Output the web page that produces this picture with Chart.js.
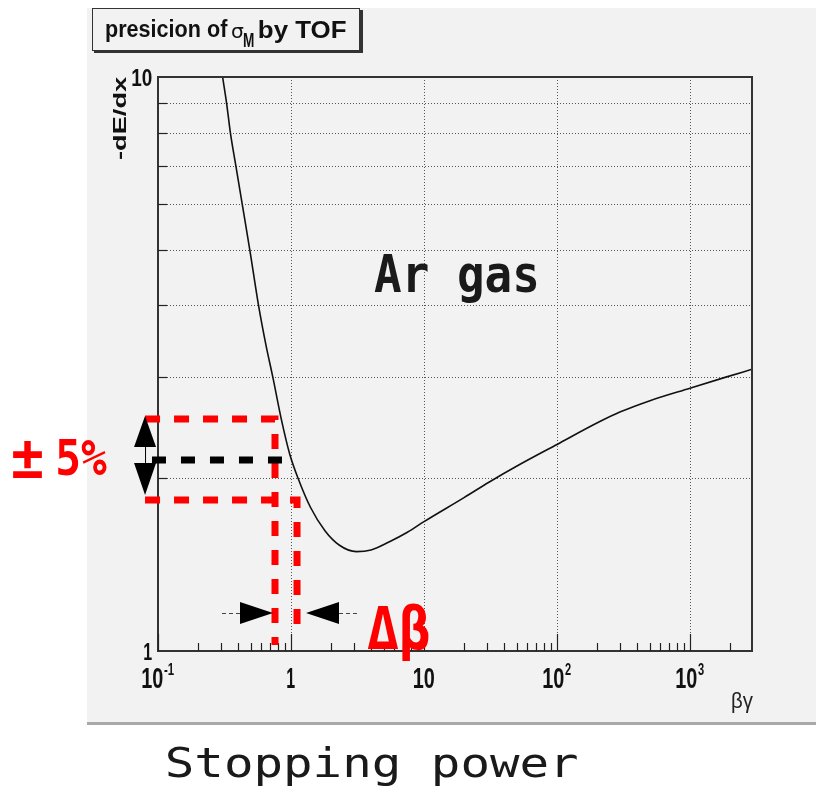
<!DOCTYPE html>
<html><head><meta charset="utf-8">
<script src="https://cdn.jsdelivr.net/npm/chart.js@4/dist/chart.umd.min.js"></script>
<style>html,body{margin:0;padding:0;background:#fff;}canvas{display:block;}</style>
</head><body>
<canvas id="c" width="816" height="793"></canvas>
<script>
// ---- data ----
const betaGamma = [0.306,0.328,0.35,0.385,0.43,0.49,0.57,0.65,0.73,0.85,0.98,1.13,1.4,1.8,2.3,3.1,4.0,5.5,7.5,10,20,31,50,100,210,300,500,1000,1860,2925];
const dEdx      = [10,9,8,7,6,5,4,3.4,3.0,2.52,2.2,2.0,1.78,1.62,1.53,1.49,1.5,1.55,1.61,1.68,1.85,1.97,2.1,2.29,2.51,2.61,2.73,2.87,3.0,3.096];
const xRange = [0.1, 2925];
const yRange = [1, 10];
const xMajorTicks = [0.1, 1, 10, 100, 1000];
const xTickBase = ["10", "1", "10", "10", "10"];
const xTickSup  = ["-1", "", "", "2", "3"];
const yLabelValues = [1, 10];
const yLabelTexts = ["1", "10"];
const yMinorGrid = [2,3,4,5,6,7,8,9];
const xGridValues = [1, 10, 100, 1000];
// annotation anchors (data coordinates)
const annLeftX = 0.0799;
const annBlackLeftX = 0.0901, annBlackRightX = 0.8706, annBlackY = 2.151;
const annUpperY = 2.536, annLowerY = 1.833;
const annBetaLow = 0.758, annBetaHigh = 1.11;
const annUpperBottomY = 1.024, annLowerBottomY = 1.058;
const annArrowY = 1.165;

function fitText(ctx, text, font, box, color) {
  ctx.save();
  ctx.font = font; ctx.fillStyle = color; ctx.textAlign = 'left'; ctx.textBaseline = 'alphabetic';
  const m = ctx.measureText(text);
  const w = m.actualBoundingBoxLeft + m.actualBoundingBoxRight;
  const h = m.actualBoundingBoxAscent + m.actualBoundingBoxDescent;
  const sx = (box[2]-box[0]) / w, sy = (box[3]-box[1]) / h;
  ctx.translate(box[0], box[1]);
  ctx.scale(sx, sy);
  ctx.fillText(text, m.actualBoundingBoxLeft, m.actualBoundingBoxAscent);
  ctx.restore();
}

const decor = {
  id: 'decor',
  beforeDraw(chart) {
    const ctx = chart.ctx;
    ctx.save();
    ctx.fillStyle = '#ffffff'; ctx.fillRect(0,0,816,793);
    ctx.fillStyle = '#f2f2f2'; ctx.fillRect(87,8,729,714);
    ctx.fillStyle = '#a9a9a9'; ctx.fillRect(87,722,729,3);
    ctx.restore();
  },
  beforeDatasetsDraw(chart) {
    const ctx = chart.ctx, a = chart.chartArea, xs = chart.scales.x, ys = chart.scales.y;
    ctx.save();
    ctx.strokeStyle = '#555'; ctx.lineWidth = 1; ctx.setLineDash([1,2]);
    xGridValues.forEach(v => {
      const px = Math.round(xs.getPixelForValue(v)) + 0.5;
      ctx.beginPath(); ctx.moveTo(px, a.top); ctx.lineTo(px, a.bottom); ctx.stroke();
    });
    yMinorGrid.forEach(v => {
      const py = Math.round(ys.getPixelForValue(v)) + 0.5;
      ctx.beginPath(); ctx.moveTo(a.left, py); ctx.lineTo(a.right, py); ctx.stroke();
    });
    ctx.restore();
  },
  afterDatasetsDraw(chart) {
    const ctx = chart.ctx, a = chart.chartArea, xs = chart.scales.x, ys = chart.scales.y;
    const X = v => xs.getPixelForValue(v), Y = v => ys.getPixelForValue(v);
    ctx.save();
    // frame
    ctx.strokeStyle = '#333'; ctx.lineWidth = 2;
    ctx.strokeRect(a.left, a.top, a.right-a.left, a.bottom-a.top);
    // x ticks
    ctx.lineWidth = 1.2; ctx.strokeStyle = '#222';
    xMajorTicks.forEach(d => {
      for (let k = 1; k <= 9; k++) {
        const v = d*k; if (v > xRange[1]) break;
        const px = Math.round(X(v)) + 0.5;
        const len = k === 1 ? 17 : 8;
        ctx.beginPath(); ctx.moveTo(px, a.bottom); ctx.lineTo(px, a.bottom-len); ctx.stroke();
      }
    });
    // y ticks
    yMinorGrid.forEach(v => {
      const py = Math.round(Y(v)) + 0.5;
      ctx.beginPath(); ctx.moveTo(a.left, py); ctx.lineTo(a.left+9, py); ctx.stroke();
    });
    // x tick labels
    const lf = 'bold 24px "Liberation Sans", Arial, sans-serif';
    xMajorTicks.forEach((v,i) => {
      const px = X(v);
      const bw = xTickBase[i].length === 2 ? 21 : 8;
      const sw = xTickSup[i] ? (xTickSup[i].length === 2 ? 11 : 7) : 0;
      const tot = bw + sw;
      const l = px - tot/2;
      fitText(ctx, xTickBase[i], lf, [l, 667, l+bw, 688], '#111');
      if (sw) fitText(ctx, xTickSup[i], lf, [l+bw+1, 663, l+bw+sw, 675], '#111');
    });
    // y tick labels
    yLabelValues.forEach((v,i) => {
      const py = Y(v);
      const w = yLabelTexts[i].length === 2 ? 20 : 8;
      fitText(ctx, yLabelTexts[i], lf, [152-w, py-8, 152, py+9], '#111');
    });
    // axis titles
    fitText(ctx, 'βγ', '22px "Liberation Sans", Arial, sans-serif', [732, 692, 753, 713], '#222');
    ctx.save();
    ctx.translate(112, 160); ctx.rotate(-Math.PI/2);
    fitText(ctx, '-dE/dx', 'bold 20px "Liberation Sans", Arial, sans-serif', [0, 0, 83, 14], '#111');
    ctx.restore();

    // title box
    ctx.fillStyle = '#333'; ctx.fillRect(94, 50, 268, 3); ctx.fillRect(360, 10, 3, 43);
    ctx.fillStyle = '#f2f2f2'; ctx.fillRect(92, 8, 268, 43);
    ctx.strokeStyle = '#333'; ctx.lineWidth = 1; ctx.strokeRect(92.5, 8.5, 267, 42);
    const tf = 'bold 22px "Liberation Sans", Arial, sans-serif';
    fitText(ctx, 'presicion of', tf, [106, 19.5, 228, 43], '#111');
    fitText(ctx, 'σ', '22px "DejaVu Sans", sans-serif', [232, 27, 244, 37.5], '#111');
    fitText(ctx, 'M', 'bold 15px "Liberation Sans", Arial, sans-serif', [244, 33.5, 254, 46.5], '#111');
    fitText(ctx, 'by TOF', tf, [259, 20, 346, 43], '#111');

    // ---- annotations ----
    ctx.lineCap = 'butt';
    ctx.strokeStyle = '#ff0000'; ctx.lineWidth = 7; ctx.setLineDash([15,14]);
    ctx.beginPath(); ctx.moveTo(X(annLeftX), Y(annUpperY)); ctx.lineTo(X(annBetaLow), Y(annUpperY)); ctx.lineTo(X(annBetaLow), Y(annUpperBottomY)); ctx.stroke();
    ctx.beginPath(); ctx.moveTo(X(annLeftX), Y(annLowerY)); ctx.lineTo(X(annBetaHigh), Y(annLowerY)); ctx.lineTo(X(annBetaHigh), Y(annLowerBottomY)); ctx.stroke();
    ctx.strokeStyle = '#000'; ctx.setLineDash([14,15]);
    ctx.beginPath(); ctx.moveTo(X(annBlackLeftX), Y(annBlackY)); ctx.lineTo(X(annBlackRightX), Y(annBlackY)); ctx.stroke();
    ctx.setLineDash([]);
    const ax = X(annLeftX), yu = Y(annUpperY), yl = Y(annLowerY);
    ctx.fillStyle = '#000';
    ctx.beginPath(); ctx.moveTo(ax, yu-3); ctx.lineTo(ax-11, yu+28); ctx.lineTo(ax+11, yu+28); ctx.closePath(); ctx.fill();
    ctx.beginPath(); ctx.moveTo(ax, yl-5); ctx.lineTo(ax-11, yl-37); ctx.lineTo(ax+11, yl-37); ctx.closePath(); ctx.fill();
    ctx.lineWidth = 1; ctx.beginPath(); ctx.moveTo(ax+0.5, yu+28); ctx.lineTo(ax+0.5, yl-37); ctx.stroke();
    const ay = Y(annArrowY), xl = X(annBetaLow) - 2, xr = X(annBetaHigh) + 9;
    ctx.beginPath(); ctx.moveTo(xl, ay); ctx.lineTo(xl-33, ay-11); ctx.lineTo(xl-33, ay+11); ctx.closePath(); ctx.fill();
    ctx.beginPath(); ctx.moveTo(xr, ay); ctx.lineTo(xr+33, ay-11); ctx.lineTo(xr+33, ay+11); ctx.closePath(); ctx.fill();
    ctx.strokeStyle = '#444'; ctx.lineWidth = 1; ctx.setLineDash([4,3]);
    ctx.beginPath(); ctx.moveTo(xl-33, Math.round(ay)+0.5); ctx.lineTo(xl-53, Math.round(ay)+0.5); ctx.stroke();
    ctx.beginPath(); ctx.moveTo(xr+33, Math.round(ay)+0.5); ctx.lineTo(xr+53, Math.round(ay)+0.5); ctx.stroke();
    ctx.setLineDash([]);

    // texts
    const mono = '"DejaVu Sans Mono", monospace';
    fitText(ctx, 'Ar gas', 'bold 48px ' + mono, [374, 255, 537, 303], '#1a1a1a');
    fitText(ctx, '±', 'bold 48px ' + mono, [13, 440, 42, 478], '#ff0000');
    fitText(ctx, '5%', 'bold 48px ' + mono, [58, 439, 107, 476], '#ff0000');
    fitText(ctx, 'Δβ', 'bold 60px ' + mono, [367, 603, 429, 662], '#ff0000');
    fitText(ctx, 'Stopping power', '44px ' + mono, [167, 745, 577, 785], '#1a1a1a');
    ctx.restore();
  }
};

new Chart(document.getElementById('c'), {
  type: 'line',
  data: { datasets: [{
    data: betaGamma.map((x, i) => ({ x, y: dEdx[i] })),
    borderColor: '#111', borderWidth: 1.6, pointRadius: 0, fill: false,
    cubicInterpolationMode: 'monotone'
  }]},
  options: {
    responsive: false, animation: false, devicePixelRatio: 1,
    layout: { padding: { left: 158, top: 77, right: 64, bottom: 142 } },
    scales: {
      x: { type: 'logarithmic', min: xRange[0], max: xRange[1], display: false },
      y: { type: 'logarithmic', min: yRange[0], max: yRange[1], display: false }
    },
    plugins: { legend: { display: false }, tooltip: { enabled: false } }
  },
  plugins: [decor]
});
</script>
</body></html>
